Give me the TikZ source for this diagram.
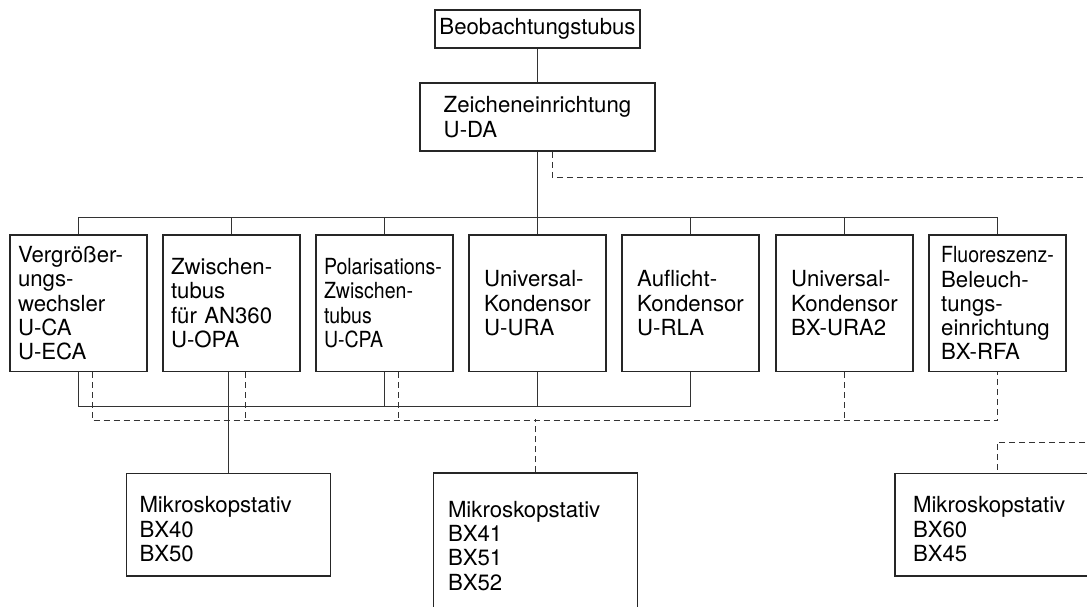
\documentclass[tikz,border=0pt]{standalone}
\usepackage{fontspec}
\setmainfont{TeX Gyre Heros}
\newfontfamily\narrowfont[FakeStretch=0.88]{TeX Gyre Heros}
\usetikzlibrary{positioning}

\begin{document}
\begin{tikzpicture}[x=1pt, y=-1pt,
    kasten/.style={draw=black!85, line width=1.6pt, inner sep=0pt, align=left,
      font=\fontsize{22.2}{24.3}\selectfont},
    modul/.style={kasten, minimum width=137pt, minimum height=136.5pt},
    linksbuendig/.style={text width=121pt, inner xsep=8pt},
    stativ/.style={kasten, minimum height=102.5pt, text width=178pt, inner xsep=13pt,
      execute at begin node={\rule{0pt}{25pt}}},
    linie/.style={draw=black!80, line width=1pt},
    gestrichelt/.style={linie, dash pattern=on 6pt off 4pt}]

      \useasboundingbox (0, 0) rectangle (1087, 606);
      \clip (0, 0) rectangle (1087, 606);

      \node (beob) at (537.5, 29) [kasten, minimum width=205pt, minimum height=38pt] {Beobachtungstubus};
      \node (zeich) at (537.5, 117) [kasten, minimum width=235pt, minimum height=68pt] {Zeicheneinrichtung\\U-DA};

      \node (vg) at (78.5, 303.25) [modul, linksbuendig] {Vergrößer-\\ungs-\\wechsler\\U-CA\\U-ECA};
      \node (zt) at (231.5, 303.25) [modul, linksbuendig] {Zwischen-\\tubus\\für AN360\\U-OPA};
      \node (pz) at (384.5, 303.25) [modul, linksbuendig, font=\fontsize{22.2}{24.3}\selectfont\narrowfont] {Polarisations-\\Zwischen-\\tubus\\U-CPA};
      \node (uk) at (537.5, 303.25) [modul] {Universal-\\Kondensor\\U-URA};
      \node (ak) at (690.5, 303.25) [modul] {Auflicht-\\Kondensor\\U-RLA};
      \node (bk) at (844.5, 303.25) [modul] {Universal-\\Kondensor\\BX-URA2};
      \node (fl) at (997.5, 303.25) [modul] {{\narrowfont Fluoreszenz-}\\Beleuch-\\tungs-\\einrichtung\\BX-RFA};

      \node (st40) at (228.5, 524.75) [stativ] {Mikroskopstativ\\BX40\\BX50};
      \node (st41) at (535.5, 541.5) [stativ, minimum height=137pt, text width=175pt, inner xsep=14.5pt,
        execute at begin node={}] {Mikroskopstativ\\BX41\\BX51\\BX52};
      \node (st60) at (997, 524.75) [stativ, text width=168pt, inner xsep=18pt] {Mikroskopstativ\\BX60\\BX45};

      \coordinate (rand oben) at (1095, 177);
      \coordinate (rand unten) at (1095, 442);

      \draw [linie] (beob) -- (zeich);
      \draw [linie] (zeich) -- (uk);
      \draw [linie] (vg.north) -- ++(0, -17) -| (fl.north);
      \foreach \n in {zt, pz, ak, bk} \draw [linie] (\n.north) -- ++(0, -17);

      \draw [linie] (vg.south) -- ++(0, 34) -| (ak.south);
      \foreach \n in {pz, uk} \draw [linie] (\n.south) -- ++(0, 34);
      \draw [linie] (st40.north |- zt.south) -- (st40.north);

      \draw [gestrichelt] ([xshift=14.5pt]zeich.south) |- (rand oben);
      \draw [gestrichelt] ([xshift=13.5pt]vg.south) -- ++(0, 48.5) -| (fl.south);
      \foreach \n in {zt, pz} \draw [gestrichelt] ([xshift=13.5pt]\n.south) -- ++(0, 48.5);
      \draw [gestrichelt] (bk.south) -- ++(0, 48.5);
      \draw [gestrichelt] (st41.north) -- ++(0, -53);
      \draw [gestrichelt] (rand unten) -| (st60.north);
    \end{tikzpicture}
\end{document}
